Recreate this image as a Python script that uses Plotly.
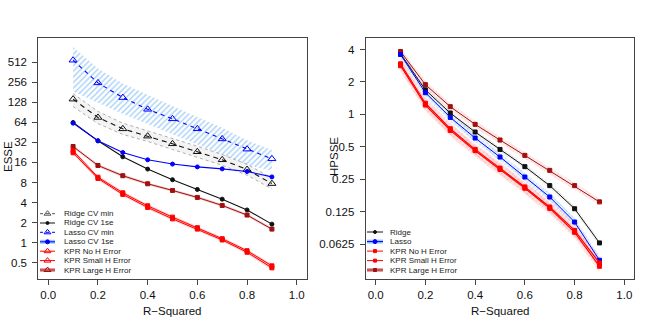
import plotly.graph_objects as go

# ---------------- data ----------------
r2 = [0.1, 0.2, 0.3, 0.4, 0.5, 0.6, 0.7, 0.8, 0.9]

# left panel (ESSE)
ridge_min = [142, 75.5, 51, 39.6, 30.4, 23.1, 17.5, 12.5, 7.7]
ridge_min_lo = [110, 61, 42, 33, 25, 19, 14.5, 10.3, 6.4]
ridge_min_hi = [172, 93, 62, 48, 37, 28, 21, 15, 9.3]
ridge_1se = [63.5, 33.7, 19.4, 12.7, 8.8, 6.3, 4.5, 3.1, 1.9]
lasso_min = [545, 249, 150, 100, 72, 51, 36, 25.3, 18.1]
lasso_min_lo = [185, 125, 85, 60, 42, 29, 20.6, 14.6, 12]
lasso_min_hi = [862, 410, 244, 163, 112, 77, 53, 34.5, 24.5]
lasso_1se = [62, 33.7, 22.5, 17.5, 15.1, 13.7, 12.8, 11.7, 9.7]
kpr_no = [23.9, 9.6, 5.6, 3.58, 2.42, 1.68, 1.15, 0.76, 0.45]
kpr_no_lo = [22.5, 9.0, 5.3, 3.4, 2.3, 1.6, 1.09, 0.72, 0.42]
kpr_no_hi = [25.4, 10.2, 5.9, 3.78, 2.55, 1.77, 1.21, 0.8, 0.48]
kpr_small = [22.3, 9.2, 5.3, 3.38, 2.28, 1.6, 1.1, 0.72, 0.42]
kpr_small_lo = [21.0, 8.7, 5.0, 3.2, 2.16, 1.52, 1.04, 0.68, 0.39]
kpr_small_hi = [23.7, 9.7, 5.6, 3.56, 2.4, 1.68, 1.16, 0.76, 0.45]
kpr_large = [27.7, 14.4, 10.1, 7.65, 6.08, 4.78, 3.62, 2.6, 1.6]
kpr_large_lo = [26.2, 13.7, 9.6, 7.3, 5.8, 4.55, 3.45, 2.48, 1.52]
kpr_large_hi = [29.2, 15.1, 10.6, 8.0, 6.36, 5.0, 3.8, 2.72, 1.68]

# right panel (HPSSE)
ridge_r = [3.66, 1.69, 1.03, 0.686, 0.473, 0.327, 0.218, 0.133, 0.064]
ridge_r_lo = [3.45, 1.6, 0.97, 0.65, 0.447, 0.309, 0.206, 0.125, 0.06]
ridge_r_hi = [3.87, 1.79, 1.09, 0.725, 0.5, 0.346, 0.23, 0.141, 0.068]
lasso_r = [3.6, 1.59, 0.938, 0.603, 0.402, 0.262, 0.171, 0.1, 0.0442]
lasso_r_lo = [3.3, 1.46, 0.86, 0.553, 0.369, 0.24, 0.157, 0.092, 0.0405]
lasso_r_hi = [3.93, 1.73, 1.02, 0.657, 0.438, 0.286, 0.186, 0.109, 0.0482]
kpr_no_r = [2.95, 1.27, 0.736, 0.473, 0.317, 0.212, 0.138, 0.0836, 0.0417]
kpr_no_r_lo = [2.6, 1.12, 0.65, 0.418, 0.28, 0.187, 0.122, 0.074, 0.0368]
kpr_no_r_hi = [3.35, 1.44, 0.835, 0.537, 0.36, 0.24, 0.157, 0.095, 0.0473]
kpr_small_r = [2.83, 1.22, 0.71, 0.46, 0.308, 0.206, 0.134, 0.0803, 0.0388]
kpr_small_r_lo = [2.49, 1.075, 0.625, 0.405, 0.271, 0.181, 0.118, 0.0707, 0.0342]
kpr_small_r_hi = [3.21, 1.385, 0.806, 0.522, 0.35, 0.234, 0.152, 0.0911, 0.044]
kpr_large_r = [3.84, 1.89, 1.18, 0.808, 0.578, 0.416, 0.302, 0.218, 0.154]
kpr_large_r_lo = [3.55, 1.75, 1.09, 0.748, 0.535, 0.385, 0.28, 0.202, 0.143]
kpr_large_r_hi = [4.15, 2.04, 1.27, 0.873, 0.624, 0.449, 0.326, 0.235, 0.166]

x_ticks = [0.0, 0.2, 0.4, 0.6, 0.8, 1.0]
x_ticktext = ["0.0", "0.2", "0.4", "0.6", "0.8", "1.0"]
left_yticks = [0.5, 1, 2, 4, 8, 16, 32, 64, 128, 256, 512]
left_yticktext = ["0.5", "1", "2", "4", "8", "16", "32", "64", "128", "256", "512"]
right_yticks = [0.0625, 0.125, 0.25, 0.5, 1, 2, 4]
right_yticktext = ["0.0625", "0.125", "0.25", "0.5", "1", "2", "4"]

left_legend = ["Ridge CV min", "Ridge CV 1se", "Lasso CV min", "Lasso CV 1se",
               "KPR No H Error", "KPR Small H Error", "KPR Large H Error"]
right_legend = ["Ridge", "Lasso", "KPR No H Error", "KPR Small H Error", "KPR Large H Error"]

# ---------------- styling ----------------
W, H = 654, 327
FONT = "Liberation Sans, Arial, Helvetica, sans-serif"
BLUE = "#0000FF"
RED = "#FF0000"
DRED = "#A01010"
LBLUE = "#4FA2F0"
PINK = "#FF8C8C"
GRAY = "#9A9A9A"

fig = go.Figure()


def band(lo, hi, xa, ya, fill=None, pattern=None, edge=None, edge_dash=None):
    fig.add_trace(go.Scatter(x=r2, y=lo, mode="lines", xaxis=xa, yaxis=ya,
                             line=dict(color=edge or "rgba(0,0,0,0)", width=0.8 if edge else 0,
                                       dash=edge_dash), showlegend=False, hoverinfo="skip"))
    kw = {}
    if pattern:
        kw["fillpattern"] = pattern
        kw["fillcolor"] = "rgba(0,0,0,0)"
    else:
        kw["fillcolor"] = fill
    fig.add_trace(go.Scatter(x=r2, y=hi, mode="lines", xaxis=xa, yaxis=ya, fill="tonexty",
                             line=dict(color=edge or "rgba(0,0,0,0)", width=0.8 if edge else 0,
                                       dash=edge_dash), showlegend=False, hoverinfo="skip", **kw))


def series(y, xa, ya, color, dash=None, symbol="circle", msize=4, width=1.1, open_=False):
    marker = dict(symbol=symbol + ("-open" if open_ else ""), size=msize, color=color,
                  line=dict(color=color, width=1))
    fig.add_trace(go.Scatter(x=r2, y=y, mode="lines+markers", xaxis=xa, yaxis=ya,
                             line=dict(color=color, width=width, dash=dash), marker=marker,
                             showlegend=False))


# ---- left panel ----
band(lasso_min_lo, lasso_min_hi, "x", "y",
     pattern=dict(shape="/", fgcolor=LBLUE, bgcolor="rgba(255,255,255,0)", size=4, solidity=0.35))
band(ridge_min_lo, ridge_min_hi, "x", "y", fill="rgba(215,215,215,0.3)", edge=GRAY, edge_dash="dot")
band(kpr_large_lo, kpr_large_hi, "x", "y", fill="rgba(230,140,140,0.45)")
band(kpr_no_lo, kpr_no_hi, "x", "y", fill="rgba(255,150,150,0.45)")
band(kpr_small_lo, kpr_small_hi, "x", "y", fill="rgba(255,150,150,0.45)")

series(lasso_min, "x", "y", BLUE, dash="4px,4px", symbol="triangle-up", msize=7, open_=True)
series(ridge_min, "x", "y", "#111111", dash="5px,4px", symbol="triangle-up", msize=7, open_=True)
series(ridge_1se, "x", "y", "#111111", symbol="circle", msize=4)
series(lasso_1se, "x", "y", BLUE, symbol="circle", msize=4)
series(kpr_large, "x", "y", DRED, symbol="square", msize=4, width=1)
series(kpr_no, "x", "y", RED, symbol="square", msize=4, width=1)
series(kpr_small, "x", "y", RED, symbol="square", msize=4, width=1)

# ---- right panel ----
band(ridge_r_lo, ridge_r_hi, "x2", "y2",
     pattern=dict(shape="x", fgcolor="#A8A8A8", bgcolor="rgba(200,200,200,0.15)", size=4, solidity=0.2))
band(kpr_large_r_lo, kpr_large_r_hi, "x2", "y2",
     pattern=dict(shape="x", fgcolor=PINK, bgcolor="rgba(255,170,170,0.2)", size=4, solidity=0.2))
band(lasso_r_lo, lasso_r_hi, "x2", "y2",
     pattern=dict(shape="x", fgcolor=LBLUE, bgcolor="rgba(150,200,250,0.2)", size=4, solidity=0.25))
band(kpr_no_r_lo, kpr_no_r_hi, "x2", "y2",
     pattern=dict(shape="x", fgcolor=PINK, bgcolor="rgba(255,170,170,0.2)", size=4, solidity=0.2))
band(kpr_small_r_lo, kpr_small_r_hi, "x2", "y2",
     pattern=dict(shape="x", fgcolor=PINK, bgcolor="rgba(255,170,170,0.2)", size=4, solidity=0.2))

series(ridge_r, "x2", "y2", "#111111", symbol="square", msize=4, width=1)
series(kpr_large_r, "x2", "y2", DRED, symbol="square", msize=4, width=1)
series(lasso_r, "x2", "y2", BLUE, symbol="square", msize=4, width=1)
series(kpr_no_r, "x2", "y2", RED, symbol="square", msize=4, width=1.2)
series(kpr_small_r, "x2", "y2", RED, symbol="square", msize=4, width=1.2)

# ---- legends (drawn on a pixel overlay axis) ----
def legend_entry(x0, x1, yc, label, color, dash=None, symbol="circle", msize=4,
                 back=None, open_=False, textx=None):
    if back:
        fig.add_trace(go.Scatter(x=[x0, x1], y=[yc, yc], mode="lines", xaxis="x3", yaxis="y3",
                                 line=dict(color=back, width=4), showlegend=False, hoverinfo="skip"))
    fig.add_trace(go.Scatter(x=[x0, x1], y=[yc, yc], mode="lines", xaxis="x3", yaxis="y3",
                             line=dict(color=color, width=1, dash=dash), showlegend=False,
                             hoverinfo="skip"))
    fig.add_trace(go.Scatter(x=[(x0 + x1) / 2], y=[yc], mode="markers", xaxis="x3", yaxis="y3",
                             marker=dict(symbol=symbol + ("-open" if open_ else ""), size=msize,
                                         color=color, line=dict(color=color, width=1)),
                             showlegend=False, hoverinfo="skip"))
    fig.add_annotation(x=textx / W, y=1 - yc / H, xref="paper", yref="paper", text=label,
                       showarrow=False, xanchor="left", yanchor="middle",
                       font=dict(family=FONT, size=8, color="#222222"))


left_rows = [213.7, 223.0, 232.3, 241.8, 251.2, 260.6, 270.0]
left_styles = [
    dict(color="#555555", dash="3px,3px", symbol="triangle-up", msize=6, open_=True),
    dict(color="#111111", symbol="circle", msize=3),
    dict(color=BLUE, dash="3px,3px", symbol="triangle-up", msize=6, open_=True),
    dict(color=BLUE, symbol="circle", msize=4, back="#9CC8F5"),
    dict(color=RED, symbol="triangle-up", msize=6, open_=True),
    dict(color=RED, symbol="triangle-up", msize=6, open_=True),
    dict(color=DRED, symbol="triangle-up", msize=6, open_=True, back="#E3A0A0"),
]
for yc, lab, st in zip(left_rows, left_legend, left_styles):
    legend_entry(40, 55, yc, lab, textx=61.5, **st)

right_rows = [232.0, 241.6, 251.1, 260.6, 270.0]
right_styles = [
    dict(color="#111111", symbol="circle", msize=3),
    dict(color=BLUE, symbol="circle", msize=4, back="#9CC8F5"),
    dict(color=RED, symbol="square", msize=3),
    dict(color=RED, symbol="square", msize=3),
    dict(color=DRED, symbol="square", msize=3, back="#E3A0A0"),
]
for yc, lab, st in zip(right_rows, right_legend, right_styles):
    legend_entry(367, 383, yc, lab, textx=388, **st)

# ---- axis titles ----
for txt, px, py, ang in [("ESSE", 8, 157, -90), ("HPSSE", 334, 157, -90),
                         ("R\u2212Squared", 172.5, 310.5, 0), ("R\u2212Squared", 500, 310.5, 0)]:
    fig.add_annotation(x=px / W, y=1 - py / H, xref="paper", yref="paper", text=txt,
                       showarrow=False, textangle=ang, xanchor="center", yanchor="middle",
                       font=dict(family=FONT, size=11.5, color="#111111"))

axis_common = dict(showline=True, mirror=True, linecolor="#444444", linewidth=1,
                   ticks="outside", ticklen=5, tickcolor="#444444", showgrid=False,
                   zeroline=False, tickfont=dict(family=FONT, size=11.5, color="#111111"))

fig.update_layout(
    width=W, height=H, autosize=False,
    margin=dict(l=0, r=0, t=0, b=0),
    paper_bgcolor="white", plot_bgcolor="rgba(0,0,0,0)",
    showlegend=False,
    xaxis=dict(domain=[38.3 / W, 306.7 / W], range=[-0.04, 1.04], anchor="y",
               tickvals=x_ticks, ticktext=x_ticktext, **axis_common),
    yaxis=dict(domain=[1 - 279 / H, 1 - 38.3 / H], type="log", range=[-0.5437, 3.0645],
               anchor="x", tickvals=left_yticks, ticktext=left_yticktext,
               ticklabelstandoff=3, **axis_common),
    xaxis2=dict(domain=[365.7 / W, 634.3 / W], range=[-0.04, 1.04], anchor="y2",
                tickvals=x_ticks, ticktext=x_ticktext, **axis_common),
    yaxis2=dict(domain=[1 - 279 / H, 1 - 38.3 / H], type="log", range=[-1.529, 0.7068],
                anchor="x2", tickvals=right_yticks, ticktext=right_yticktext,
                ticklabelstandoff=3, **axis_common),
    xaxis3=dict(domain=[0, 1], range=[0, W], anchor="y3", visible=False),
    yaxis3=dict(domain=[0, 1], range=[H, 0], anchor="x3", visible=False),
)

fig.write_html("out.html", config={"displayModeBar": False, "staticPlot": True},
               post_script="document.body.style.margin='0px';document.body.style.overflow='hidden';")
